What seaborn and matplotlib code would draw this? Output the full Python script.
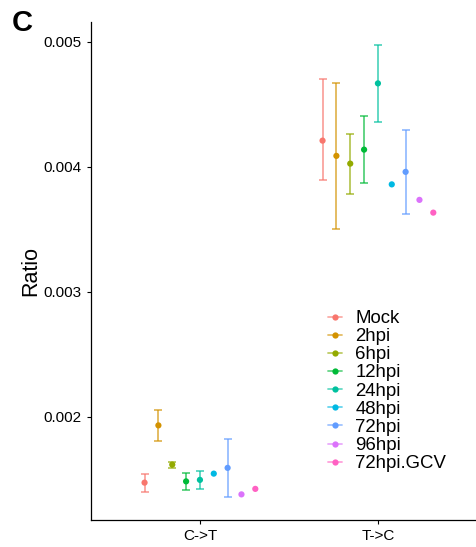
import numpy as np
import pandas as pd
import matplotlib
matplotlib.use("Agg")
import matplotlib.pyplot as plt
from matplotlib.lines import Line2D
import seaborn as sns

# Mutation ratio per substitution type and infection time point
substitutions = ["C->T", "T->C"]
groups = ["Mock", "2hpi", "6hpi", "12hpi", "24hpi", "48hpi", "72hpi", "96hpi", "72hpi.GCV"]

ct_mean = [0.001472, 0.001930, 0.001616, 0.001482, 0.001494, 0.001544, 0.001590, 0.001378, 0.001422]
ct_low = [0.001398, 0.001808, 0.001586, 0.001414, 0.001424, np.nan, 0.001354, np.nan, np.nan]
ct_high = [0.001544, 0.002050, 0.001640, 0.001550, 0.001562, np.nan, 0.001824, np.nan, np.nan]

tc_mean = [0.004208, 0.004086, 0.004024, 0.004136, 0.004666, 0.003858, 0.003958, 0.003734, 0.003632]
tc_low = [0.003896, 0.003504, 0.003784, 0.003870, 0.004354, np.nan, 0.003624, np.nan, np.nan]
tc_high = [0.004698, 0.004666, 0.004264, 0.004402, 0.004976, np.nan, 0.004294, np.nan, np.nan]

y_ticks = [0.002, 0.003, 0.004, 0.005]

# ggplot-style hue palette
colors = ["#F8766D", "#D39200", "#93AA00", "#00BA38", "#00C19F",
          "#00B9E3", "#619CFF", "#DB72FB", "#FF61C3"]
palette = dict(zip(groups, colors))

df = pd.DataFrame({
    "type": np.repeat(substitutions, len(groups)),
    "group": groups * 2,
    "ratio": ct_mean + tc_mean,
    "low": ct_low + tc_low,
    "high": ct_high + tc_high,
})

# dodge the groups within each substitution type
dodge_width = 0.7
n = len(groups)
offsets = (np.arange(n) - (n - 1) / 2) * dodge_width / n
df["pos"] = df["type"].map({s: i for i, s in enumerate(substitutions)}) + \
    df["group"].map(dict(zip(groups, offsets)))

sns.set_theme(style="ticks")
plt.rcParams["font.family"] = ["Liberation Sans", "DejaVu Sans"]
plt.rcParams["text.color"] = "black"
plt.rcParams["axes.labelcolor"] = "black"

fig = plt.figure(figsize=(4.76, 5.47), dpi=100)
ax = fig.add_axes([91 / 476, 1 - 520 / 547, 1 - 91 / 476, (520 - 22) / 547])

# error bars
for _, row in df.dropna(subset=["low"]).iterrows():
    ax.errorbar(row["pos"], row["ratio"],
                yerr=[[row["ratio"] - row["low"]], [row["high"] - row["ratio"]]],
                fmt="none", ecolor=palette[row["group"]], elinewidth=1.15,
                capsize=2.8, capthick=1.15, alpha=0.75, zorder=2)

sns.scatterplot(data=df, x="pos", y="ratio", hue="group", hue_order=groups,
                palette=palette, s=20, linewidth=0, legend=False, ax=ax, zorder=3)

ax.set_xlim(-0.612, 1.551)
ax.set_ylim(0.001173, 0.005157)
ax.set_xticks(range(len(substitutions)))
ax.set_xticklabels(substitutions)
ax.set_yticks(y_ticks)
ax.set_yticklabels([f"{v:.3f}" for v in y_ticks])
ax.set_xlabel("")
ax.set_ylabel("Ratio", fontsize=15.5, labelpad=2, color="black")
ax.tick_params(axis="both", labelsize=11, colors="black", length=3, width=0.8)
for side in ["top", "right"]:
    ax.spines[side].set_visible(False)
for side in ["left", "bottom"]:
    ax.spines[side].set_color("black")
    ax.spines[side].set_linewidth(0.9)

# legend keys: short line through a point
handles = []
for g in groups:
    line = Line2D([0], [0], color=palette[g], lw=1.3, alpha=0.6)
    dot = Line2D([0], [0], color=palette[g], marker="o", markersize=4.5,
                 linestyle="none", markeredgewidth=0)
    handles.append((line, dot))
leg = fig.legend(handles, groups, loc="upper left",
                 bbox_to_anchor=(328 / 476, 1 - 310 / 547), frameon=False,
                 fontsize=13.4, handlelength=0.75, handletextpad=0.72,
                 labelspacing=0.06, borderpad=0, borderaxespad=0)
for t in leg.get_texts():
    t.set_color("black")

fig.text(12 / 476, 1 - 9 / 547, "C", fontsize=21, fontweight="bold",
         ha="left", va="top", color="black")

fig.savefig("out.png", dpi=100)
